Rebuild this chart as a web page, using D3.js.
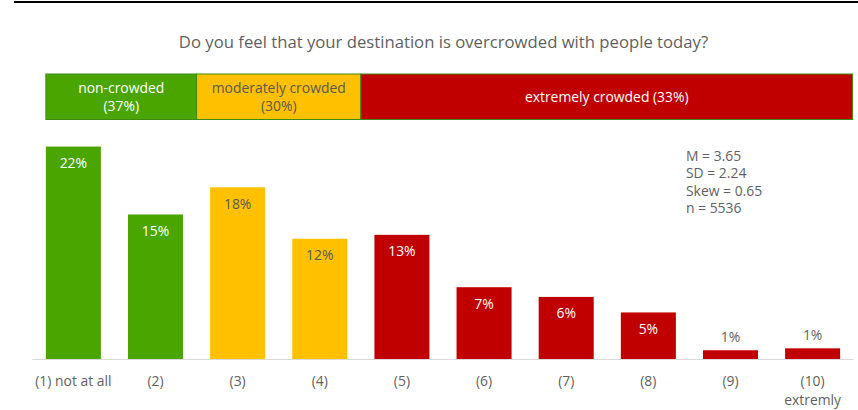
<!DOCTYPE html>
<html><head><meta charset="utf-8">
<script src="https://cdn.jsdelivr.net/npm/d3@7"></script>
<style>
html,body{margin:0;padding:0;background:#fff;}
svg{display:block;font-family:"Open Sans",sans-serif;}
</style></head>
<body>
<svg id="chart" width="858" height="410"></svg>
<script>
const title = "Do you feel that your destination is overcrowded with people today?";
const categories = ["1","2","3","4","5","6","7","8","9","10"];
const tickLabels = [["(1) not at all"],["(2)"],["(3)"],["(4)"],["(5)"],["(6)"],["(7)"],["(8)"],["(9)"],["(10)","extremly"]];
const values = [21.9, 14.9, 17.7, 12.4, 12.8, 7.4, 6.4, 4.8, 0.9, 1.1];
const valueLabels = ["22%","15%","18%","12%","13%","7%","6%","5%","1%","1%"];
const barGroup = ["non","non","mod","mod","ext","ext","ext","ext","ext","ext"];
const groupKeys = ["non","mod","ext"];
const groupLabels = [["non-crowded","(37%)"],["moderately crowded","(30%)"],["extremely crowded (33%)"]];
const groupFirst = ["1","3","5"];
const groupLast = ["2","4","10"];
const stats = ["M = 3.65","SD = 2.24","Skew = 0.65","n = 5536"];

const colors = {non:"#4aa500", mod:"#ffc000", ext:"#c00000"};
const labelInside = {non:"#ffffff", mod:"#595959", ext:"#ffffff"};
const textGray = "#5f5f5f";
const fs = 13.9;

const svg = d3.select("#chart");

// top rule
svg.append("rect").attr("x",14).attr("y",1).attr("width",844).attr("height",2).attr("fill","#000");

// title
svg.append("text").attr("x",443.5).attr("y",48).attr("text-anchor","middle")
  .attr("font-size",16.7).attr("fill",textGray).text(title);

const x = d3.scaleBand().domain(categories).range([32.3, 853.7]).paddingInner(0.33).paddingOuter(0.165);
const y = d3.scaleLinear().domain([0, 25]).range([359, 116.5]);
const gap = x.step() - x.bandwidth();

// group band
const bandTop = 74, bandH = 45.5;
const gb = svg.append("g");
groupKeys.forEach((k,i) => {
  const x0 = i === 0 ? x(groupFirst[i]) : x(groupFirst[i]) - gap/2;
  const x1 = i === groupKeys.length-1 ? x(groupLast[i]) + x.bandwidth() + 12.5 : x(groupLast[i]) + x.bandwidth() + gap/2;
  gb.append("rect").attr("x",x0).attr("y",bandTop).attr("width",x1-x0).attr("height",bandH)
    .attr("fill",colors[k]).attr("stroke","#3f8a12").attr("stroke-width",1);
  const lines = groupLabels[i];
  const cy = bandTop + bandH/2;
  const lh = 17.5;
  lines.forEach((t,j) => {
    gb.append("text").attr("x",(x0+x1)/2).attr("y",cy + (j-(lines.length-1)/2)*lh + 5)
      .attr("text-anchor","middle").attr("font-size",fs)
      .attr("fill",labelInside[k]).text(t);
  });
});

// axis baseline
svg.append("line").attr("x1",32.3).attr("x2",853.7).attr("y1",359.5).attr("y2",359.5)
  .attr("stroke","#d9d9d9").attr("stroke-width",1);

// bars
const bars = svg.append("g");
categories.forEach((c,i) => {
  const top = y(values[i]);
  bars.append("rect").attr("x",x(c)).attr("y",top).attr("width",x.bandwidth()).attr("height",y(0)-top)
    .attr("fill",colors[barGroup[i]]);
  const inside = (y(0)-top) > 30;
  bars.append("text").attr("x",x(c)+x.bandwidth()/2)
    .attr("y", inside ? top + 21.5 : top - 8.5)
    .attr("text-anchor","middle").attr("font-size",fs)
    .attr("fill", inside ? labelInside[barGroup[i]] : textGray)
    .text(valueLabels[i]);
});

// x tick labels
const xl = svg.append("g");
categories.forEach((c,i) => {
  tickLabels[i].forEach((t,j) => {
    xl.append("text").attr("x",x(c)+x.bandwidth()/2).attr("y",385.5 + j*19)
      .attr("text-anchor","middle").attr("font-size",fs).attr("fill",textGray).text(t);
  });
});

// stats
stats.forEach((t,j) => {
  svg.append("text").attr("x",686).attr("y",161 + j*17.3).attr("font-size",fs)
    .attr("fill",textGray).text(t);
});
</script>
</body></html>
